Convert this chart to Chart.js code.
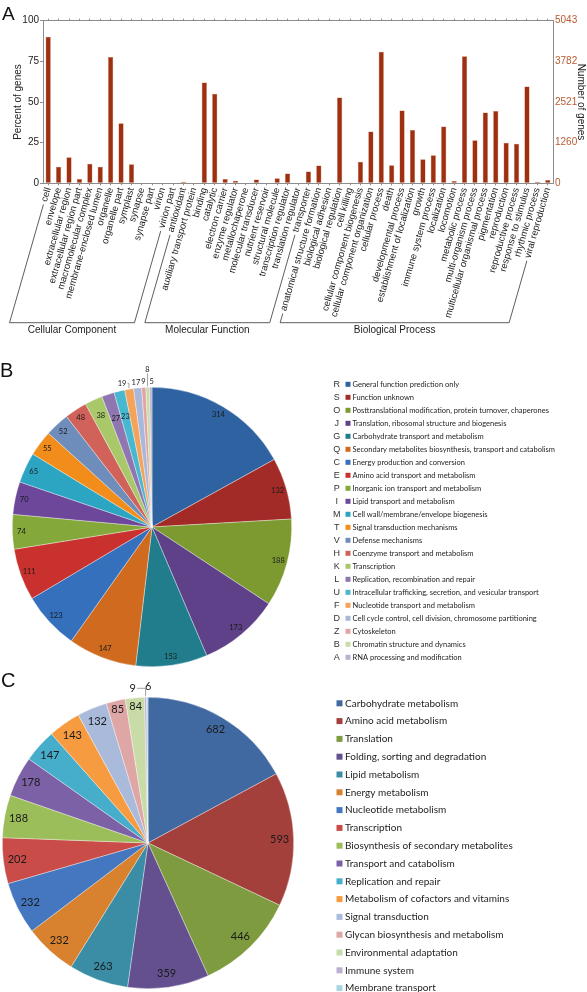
<!DOCTYPE html>
<html>
<head>
<meta charset="utf-8">
<script src="https://cdn.jsdelivr.net/npm/chart.js@4.4.0/dist/chart.umd.min.js"></script>
<style>
  body { margin: 0; background: #fff; width: 587px; height: 992px; position: relative; overflow: hidden; }
  canvas { position: absolute; left: 0; }
  #goChart { top: 0; }
  #cogChart { top: 350px; }
  #keggChart { top: 670px; }
</style>
</head>
<body>
<canvas id="goChart" width="587" height="345"></canvas>
<canvas id="cogChart" width="587" height="320"></canvas>
<canvas id="keggChart" width="587" height="322"></canvas>
<script>
// ---- A: GO terms ----
const goTerms = [
  'cell', 'envelope', 'extracellular region', 'extracellular region part', 'macromolecular complex',
  'membrane-enclosed lumen', 'organelle', 'organelle part', 'symplast', 'synapse', 'synapse part',
  'virion', 'virion part',
  'antioxidant', 'auxiliary transport protein', 'binding', 'catalytic', 'electron carrier',
  'enzyme regulator', 'metallochaperone', 'molecular transducer', 'nutrient reservoir',
  'structural molecule', 'transcription regulator', 'translation regulator', 'transporter',
  'anatomical structure formation', 'biological adhesion', 'biological regulation', 'cell killing',
  'cellular component biogenesis', 'cellular component organization', 'cellular process', 'death',
  'developmental process', 'establishment of localization', 'growth', 'immune system process',
  'localization', 'locomotion', 'metabolic process', 'multi-organism process',
  'multicellular organismal process', 'pigmentation', 'reproduction', 'reproductive process',
  'response to stimulus', 'rhythmic process', 'viral reproduction'
];
const goPercent = [
  90.2, 10.2, 16.0, 2.7, 12.1, 10.2, 77.7, 36.9, 11.7, 0.3, 0, 0, 0,
  1.0, 0, 62.0, 55.0, 2.7, 1.6, 0, 2.3, 0, 3.1, 6.1, 0.4, 7.2,
  10.9, 0.4, 52.7, 0.2, 13.3, 31.8, 80.9, 11.1, 44.7, 32.8, 14.8, 17.2, 35.0, 1.4,
  78.1, 26.4, 43.6, 44.5, 25.0, 24.4, 59.6, 1.0, 2.0
];
const goGroupNames = ['Cellular Component', 'Molecular Function', 'Biological Process'];
const goGroupSizes = [13, 13, 23];
const pctTicks = [0, 25, 50, 75, 100];
const countTicks = [0, 1260, 2521, 3782, 5043];

// ---- B: COG ----
const cogCodes = ['R','S','O','J','G','Q','C','E','P','I','M','T','V','H','K','L','U','F','D','Z','B','A'];
const cogNames = [
  'General function prediction only', 'Function unknown',
  'Posttranslational modification, protein turnover, chaperones',
  'Translation, ribosomal structure and biogenesis', 'Carbohydrate transport and metabolism',
  'Secondary metabolites biosynthesis, transport and catabolism', 'Energy production and conversion',
  'Amino acid transport and metabolism', 'Inorganic ion transport and metabolism',
  'Lipid transport and metabolism', 'Cell wall/membrane/envelope biogenesis',
  'Signal transduction mechanisms', 'Defense mechanisms', 'Coenzyme transport and metabolism',
  'Transcription', 'Replication, recombination and repair',
  'Intracellular trafficking, secretion, and vesicular transport', 'Nucleotide transport and metabolism',
  'Cell cycle control, cell division, chromosome partitioning', 'Cytoskeleton',
  'Chromatin structure and dynamics', 'RNA processing and modification'
];
const cogCounts = [314, 132, 188, 173, 153, 147, 123, 111, 74, 70, 65, 55, 52, 48, 38, 27, 23, 19, 17, 9, 8, 5];
const cogColors = ['#2F62A0','#A22B27','#7C9A2F','#5F4189','#217D8C','#CF6A1E','#3470BC','#C8312E',
  '#84A83A','#6C479A','#2BA5C2','#F28C1A','#6F8DBB','#D0625A','#A8C86A','#8F76B0','#48B8D0',
  '#F5A25A','#A8B8DA','#E2A3A3','#C9DDAA','#B9B1CF'];

// ---- C: KEGG ----
const keggNames = [
  'Carbohydrate metabolism', 'Amino acid metabolism', 'Translation', 'Folding, sorting and degradation',
  'Lipid metabolism', 'Energy metabolism', 'Nucleotide metabolism', 'Transcription',
  'Biosynthesis of secondary metabolites', 'Transport and catabolism', 'Replication and repair',
  'Metabolism of cofactors and vitamins', 'Signal transduction', 'Glycan biosynthesis and metabolism',
  'Environmental adaptation', 'Immune system', 'Membrane transport'
];
const keggCounts = [682, 593, 446, 359, 263, 232, 232, 202, 188, 178, 147, 143, 132, 85, 84, 9, 6];
const keggColors = ['#4069A1','#A4403C','#7E9C3F','#64508E','#3A8DA5','#D8812F','#4477C0','#C94C48',
  '#9CBE5A','#7D61A7','#46AECB','#F79B40','#A9BADB','#DEA6A5','#C9DCA8','#BCB0D2','#A9D6E3'];

const sans = '"Liberation Sans", Arial, sans-serif';
const axisGray = '#8c8c8c';
const labelSize = 9.5;

function panelLetter(text, x, y, size) {
  return {
    id: 'panelLetter',
    afterDraw(chart) {
      const ctx = chart.ctx;
      ctx.save();
      ctx.font = size + 'px ' + sans;
      ctx.fillStyle = '#111';
      ctx.textAlign = 'left';
      ctx.textBaseline = 'alphabetic';
      ctx.fillText(text, x, y);
      ctx.restore();
    }
  };
}

// slanted brackets + group names under the rotated GO labels
const goBrackets = {
  id: 'goBrackets',
  afterDraw(chart) {
    const ctx = chart.ctx, xs = chart.scales.x;
    const th = xs.labelRotation * Math.PI / 180;
    const c = Math.cos(th), s = Math.sin(th);
    const y0 = xs.top + 3, lh = labelSize * 1.2;
    const yb = 322.7;
    ctx.save();
    ctx.strokeStyle = '#333';
    ctx.lineWidth = 0.8;
    let start = 0;
    goGroupSizes.forEach((n, g) => {
      ctx.font = labelSize + 'px ' + sans;
      const ends = [start, start + n - 1].map(i => {
        const px = xs.getPixelForTick(i);
        const w = ctx.measureText(goTerms[i]).width + 3;
        const sx = px - w * c, sy = y0 + lh / 2 * c + w * s;
        return { sx, sy, bx: sx - (yb - sy) * c / s };
      });
      ctx.beginPath();
      ctx.moveTo(ends[0].sx, ends[0].sy);
      ctx.lineTo(ends[0].bx, yb);
      ctx.lineTo(ends[1].bx, yb);
      ctx.lineTo(ends[1].sx, ends[1].sy);
      ctx.stroke();
      ctx.font = '10px ' + sans;
      ctx.fillStyle = '#222';
      ctx.textAlign = 'center';
      ctx.textBaseline = 'middle';
      ctx.fillText(goGroupNames[g], (ends[0].bx + ends[1].bx) / 2, yb + 8);
      start += n;
    });
    ctx.restore();
  }
};

function sliceLabels(cfg) {
  return {
    id: 'sliceLabels',
    afterDatasetsDraw(chart) {
      const ctx = chart.ctx, meta = chart.getDatasetMeta(0), vals = chart.data.datasets[0].data;
      ctx.save();
      ctx.font = cfg.font;
      ctx.fillStyle = '#1a1a1a';
      ctx.strokeStyle = '#8a8a8a';
      ctx.lineWidth = 0.8;
      ctx.textAlign = 'center';
      ctx.textBaseline = 'middle';
      meta.data.forEach((arc, i) => {
        const p = arc.getProps(['x', 'y', 'startAngle', 'endAngle', 'outerRadius'], true);
        const mid = (p.startAngle + p.endAngle) / 2;
        const cos = Math.cos(mid), sin = Math.sin(mid);
        const txt = String(vals[i]);
        const out = cfg.outside[i];
        if (out) {
          const d = p.outerRadius + cfg.gap;
          const lx = p.x + cos * d + out[0], ly = p.y + sin * d + out[1];
          const lead = cfg.leaders[i];
          if (lead) {
            const rx = p.x + cos * (p.outerRadius + 1), ry = p.y + sin * (p.outerRadius + 1);
            const w = ctx.measureText(txt).width;
            ctx.beginPath();
            if (lead === 'h') {
              ctx.moveTo(lx + w / 2 + 1, ly);
              ctx.lineTo(rx, ly);
              ctx.lineTo(rx, ry);
            } else {
              ctx.moveTo(lx, ly + 4);
              ctx.lineTo(lx, ry);
            }
            ctx.stroke();
          }
          ctx.fillText(txt, lx, ly);
        } else {
          const d = p.outerRadius - (cfg.insetAt[i] || cfg.inset);
          ctx.fillText(txt, p.x + cos * d, p.y + sin * d);
        }
      });
      ctx.restore();
    }
  };
}

function sideLegend(cfg) {
  return {
    id: 'sideLegend',
    afterDraw(chart) {
      const ctx = chart.ctx, ds = chart.data.datasets[0];
      ctx.save();
      ctx.textBaseline = 'middle';
      chart.data.labels.forEach((name, i) => {
        const y = cfg.y0 + i * cfg.step;
        if (cfg.codes) {
          ctx.font = cfg.codeFont;
          ctx.fillStyle = '#333';
          ctx.textAlign = 'center';
          ctx.fillText(cfg.codes[i], cfg.codeX, y);
        }
        ctx.fillStyle = ds.backgroundColor[i];
        ctx.fillRect(cfg.boxX, y - cfg.box / 2, cfg.box, cfg.box);
        ctx.font = cfg.font;
        ctx.fillStyle = '#1e1e1e';
        ctx.textAlign = 'left';
        ctx.fillText(name, cfg.textX, y);
      });
      ctx.restore();
    }
  };
}

new Chart(document.getElementById('goChart'), {
  type: 'bar',
  data: {
    labels: goTerms,
    datasets: [{
      data: goPercent,
      backgroundColor: '#9E2F10',
      borderColor: '#C8704F',
      borderWidth: 0.5,
      barPercentage: 0.5,
      categoryPercentage: 1
    }]
  },
  options: {
    responsive: false,
    animation: false,
    layout: { padding: 0 },
    plugins: { legend: { display: false }, tooltip: { enabled: false } },
    scales: {
      x: {
        position: 'bottom',
        offset: true,
        grid: { drawOnChartArea: false, offset: false, tickLength: 2, color: axisGray },
        border: { color: axisGray },
        ticks: {
          autoSkip: false, minRotation: 74, maxRotation: 74, padding: 1,
          color: '#1a1a1a', font: { family: sans, size: labelSize }
        },
        afterFit(s) { s.height = 161.7; }
      },
      xTop: {
        type: 'category',
        position: 'top',
        offset: true,
        grid: { drawOnChartArea: false, offset: false, tickLength: 2, color: axisGray },
        border: { color: axisGray },
        ticks: { display: false },
        afterFit(s) { s.height = 20.7; }
      },
      y: {
        position: 'left',
        min: 0, max: 100,
        afterBuildTicks(s) { s.ticks = pctTicks.map(v => ({ value: v })); },
        grid: { drawOnChartArea: false, tickLength: 3, color: axisGray },
        border: { color: axisGray },
        ticks: { padding: 1, color: '#222', font: { family: sans, size: 10 } },
        title: { display: true, text: 'Percent of genes', color: '#222', font: { family: sans, size: 10 }, padding: { top: 12, bottom: 0 } },
        afterFit(s) { s.width = 43; }
      },
      yRight: {
        position: 'right',
        min: 0, max: 5043,
        afterBuildTicks(s) { s.ticks = countTicks.map(v => ({ value: v })); },
        grid: { drawOnChartArea: false, tickLength: 1, color: axisGray },
        border: { color: axisGray },
        ticks: {
          padding: 1, color: '#B85A30', font: { family: sans, size: 10 },
          callback: v => String(v)
        },
        title: { display: true, text: 'Number of genes', color: '#222', font: { family: sans, size: 10 }, padding: { top: 0, bottom: 0 } },
        afterFit(s) { s.width = 34; }
      }
    }
  },
  plugins: [goBrackets, panelLetter('A', 2, 19.5, 19)]
});

new Chart(document.getElementById('cogChart'), {
  type: 'pie',
  data: {
    labels: cogNames,
    datasets: [{ data: cogCounts, backgroundColor: cogColors, borderColor: 'rgba(255,255,255,0.6)', borderWidth: 0.6 }]
  },
  options: {
    responsive: false,
    animation: false,
    layout: { padding: { left: 12, right: 295, top: 37, bottom: 3 } },
    plugins: { legend: { display: false }, tooltip: { enabled: false } }
  },
  plugins: [
    sliceLabels({
      font: '7.5px Lato', inset: 9, insetAt: { 14: 17, 15: 25, 16: 26 }, gap: 6,
      outside: { 17: [-6, 0], 18: [-1, 0], 19: [0, 0], 20: [0, -12], 21: [1, 0] },
      leaders: { 17: 'h', 20: 'v' }
    }),
    sideLegend({
      codes: cogCodes, codeX: 336.7, codeFont: '9px ' + sans,
      boxX: 345.5, box: 5, textX: 352.5, y0: 34.3, step: 13, font: '7.5px Lato'
    }),
    panelLetter('B', 0, 26.7, 20)
  ]
});

new Chart(document.getElementById('keggChart'), {
  type: 'pie',
  data: {
    labels: keggNames,
    datasets: [{ data: keggCounts, backgroundColor: keggColors, borderColor: 'rgba(255,255,255,0.6)', borderWidth: 0.6 }]
  },
  options: {
    responsive: false,
    animation: false,
    layout: { padding: { left: 2, right: 293, top: 27, bottom: 3 } },
    plugins: { legend: { display: false }, tooltip: { enabled: false } }
  },
  plugins: [
    sliceLabels({
      font: '11px Lato', inset: 14, insetAt: { 13: 9, 14: 9 }, gap: 10,
      outside: { 15: [-12.7, 1], 16: [1, -1] },
      leaders: { 15: 'h' }
    }),
    sideLegend({ boxX: 336.5, box: 6, textX: 345, y0: 33.3, step: 17.8, font: '10px Lato' }),
    panelLetter('C', 1, 16.7, 20)
  ]
});
</script>
</body>
</html>
